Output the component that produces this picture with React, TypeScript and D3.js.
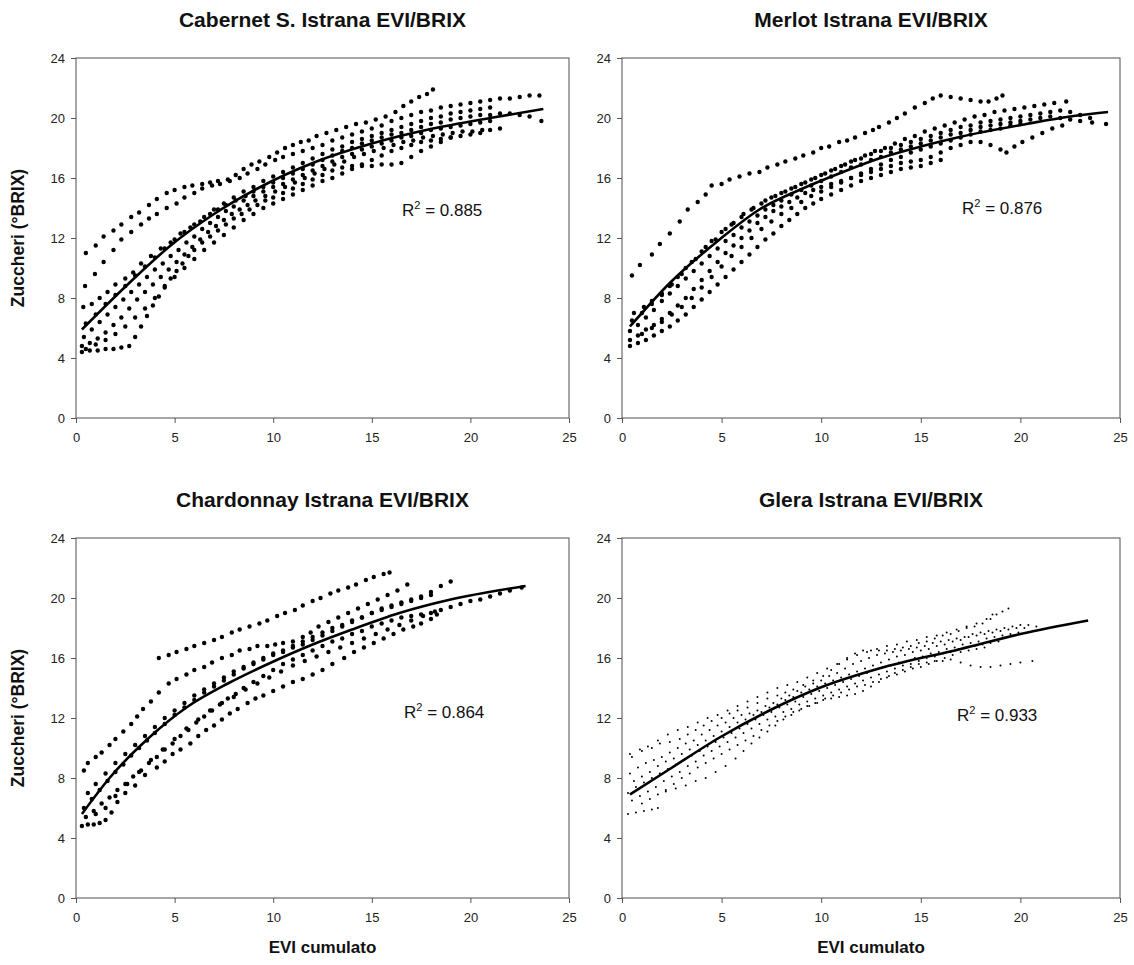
import React, { useEffect, useRef } from 'react';
import * as d3 from 'd3';

type Pt = [number, number];

const FONT = '"Liberation Sans", Arial, sans-serif';

const xTicks = [0, 5, 10, 15, 20, 25];
const yTicks = [0, 4, 8, 12, 16, 20, 24];

// Cabernet S. - one list per dotted track (EVI cumulato, °BRIX)
const cabernetTracks: Pt[][] = [
  [[0.5,11.0],[1.0,11.5],[1.4,12.1],[1.9,12.5],[2.3,12.9],[2.8,13.4],[3.2,13.7],[3.7,14.2],[4.1,14.6],[4.6,15.0],[5.0,15.2],[5.5,15.4],[5.9,15.5],[6.4,15.6],[6.8,15.7],[7.2,15.8],[7.7,15.9],[8.1,16.2],[8.5,16.6],[8.9,16.9],[9.3,17.1],[9.8,17.4],[10.2,17.7],[10.6,18.0],[11.0,18.2],[11.4,18.4],[11.8,18.5],[12.2,18.8],[12.7,19.0],[13.2,19.2],[13.7,19.4],[14.2,19.6],[14.7,19.7],[15.2,19.9],[15.7,20.1],[16.2,20.4],[16.6,20.8],[17.0,21.1],[17.4,21.4],[17.8,21.6],[18.1,21.9]],
  [[0.46,8.8],[0.96,9.6],[1.4,10.4],[1.9,11.2],[2.3,11.9],[2.8,12.4],[3.3,12.9],[3.7,13.3],[4.1,13.6],[4.6,14.0],[5.1,14.3],[5.5,14.7],[6.0,15.0],[6.4,15.3],[6.9,15.5],[7.3,15.6],[7.8,15.8],[8.3,16.0],[8.7,16.3],[9.2,16.6],[9.6,16.9],[10.1,17.2],[10.5,17.4],[11.0,17.6],[11.5,17.8],[12.0,18.0],[12.5,18.2],[13.0,18.5],[13.5,18.7],[14.0,18.9],[14.5,19.1],[15.0,19.3],[15.5,19.5],[16.0,19.8],[16.5,20.0],[17.0,20.2],[17.5,20.4],[18.0,20.5],[18.5,20.7],[19.0,20.8],[19.5,20.9],[20.0,21.0],[20.5,21.1],[21.0,21.2],[21.5,21.3],[22.0,21.3],[22.5,21.4],[23.0,21.5],[23.5,21.5]],
  [[0.37,7.4],[0.8,7.6],[1.2,8.0],[1.6,8.4],[2.0,8.9],[2.5,9.3],[2.9,9.7],[3.3,10.3],[3.8,10.8],[4.3,11.3],[4.8,11.7],[5.3,12.3],[5.8,12.7],[6.3,13.1],[6.8,13.6],[7.2,13.9],[7.6,14.2],[8.1,14.5],[8.6,14.8],[9.0,15.1],[9.5,15.4],[10.0,15.7],[10.5,16.0],[11.0,16.3],[11.5,16.6],[12.0,16.9],[12.5,17.2],[13.0,17.5],[13.5,17.8],[14.0,18.0],[14.5,18.3],[15.0,18.5],[15.5,18.7],[16.0,18.9],[16.5,19.0],[17.0,19.2],[17.5,19.4],[18.0,19.6],[18.5,19.7],[19.0,19.9],[19.5,20.0],[20.0,20.1],[20.5,20.2],[21.0,20.2],[21.5,20.3],[22.0,20.3],[22.5,20.2],[23.0,20.1],[23.6,19.8]],
  [[0.5,6.3],[1.0,6.9],[1.5,7.6],[2.0,8.2],[2.5,8.8],[3.0,9.5],[3.5,10.1],[4.0,10.7],[4.5,11.3],[5.0,11.9],[5.5,12.4],[6.0,12.9],[6.5,13.4],[7.0,13.9],[7.5,14.3],[8.0,14.7],[8.5,15.1],[9.0,15.4],[9.5,15.8],[10.0,16.1],[10.5,16.4],[11.0,16.7],[11.5,17.0],[12.0,17.3],[12.5,17.6],[13.0,17.9],[13.5,18.1],[14.0,18.4],[14.5,18.6],[15.0,18.8],[15.5,19.0],[16.0,19.2],[16.5,19.4],[17.0,19.6],[17.5,19.8],[18.0,20.0],[18.5,20.1],[19.0,20.3],[19.5,20.4],[20.0,20.5],[20.5,20.6],[21.0,20.7]],
  [[0.4,5.4],[0.8,5.9],[1.2,6.4],[1.6,6.9],[2.0,7.4],[2.4,7.9],[2.8,8.4],[3.2,8.9],[3.6,9.4],[4.0,9.9],[4.4,10.3],[4.8,10.8],[5.2,11.2],[5.6,11.7],[6.0,12.1],[6.4,12.6],[6.8,13.0],[7.2,13.4],[7.6,13.8],[8.0,14.1],[8.5,14.5],[9.0,14.8],[9.5,15.1],[10.0,15.4],[10.5,15.6],[11.0,15.9],[11.5,16.2],[12.0,16.5],[12.5,16.8],[13.0,17.1],[13.5,17.4],[14.0,17.6],[14.5,17.9],[15.0,18.1],[15.5,18.3],[16.0,18.5],[16.5,18.7],[17.0,18.8],[17.5,19.0],[18.0,19.2],[18.5,19.3],[19.0,19.4],[19.5,19.5],[20.0,19.6],[20.5,19.7],[21.0,19.8]],
  [[0.3,4.8],[0.7,5.0],[1.1,5.3],[1.5,5.7],[1.9,6.2],[2.3,6.7],[2.7,7.3],[3.1,7.9],[3.5,8.4],[3.9,8.9],[4.3,9.4],[4.7,9.9],[5.1,10.4],[5.5,10.9],[5.9,11.4],[6.3,11.9],[6.7,12.4],[7.1,12.8],[7.5,13.2],[7.9,13.6],[8.3,13.9],[8.7,14.2],[9.1,14.5],[9.6,14.8],[10.1,15.1],[10.6,15.4],[11.1,15.7],[11.6,16.0],[12.1,16.3],[12.6,16.6],[13.1,16.9],[13.6,17.1],[14.1,17.4],[14.6,17.6],[15.1,17.8],[15.6,18.0],[16.1,18.2],[16.6,18.4],[17.1,18.5],[17.6,18.7],[18.1,18.8],[18.6,18.9],[19.1,19.0],[19.6,19.1],[20.1,19.1],[20.6,19.2]],
  [[0.5,4.6],[1.0,4.9],[1.5,5.2],[2.0,5.6],[2.5,6.1],[3.0,6.7],[3.5,7.3],[4.0,8.0],[4.5,8.8],[5.0,9.4],[5.5,10.0],[6.0,10.6],[6.5,11.2],[7.0,11.7],[7.5,12.2],[8.0,12.7],[8.5,13.2],[9.0,13.6],[9.5,14.0],[10.0,14.3],[10.5,14.6],[11.0,14.9],[11.5,15.2],[12.0,15.5],[12.5,15.8],[13.0,16.0],[13.5,16.3],[14.0,16.6],[14.5,16.9],[15.0,17.2],[15.5,17.5],[16.0,17.8],[16.5,18.0],[17.0,18.2],[17.5,18.4],[18.0,18.5],[18.5,18.6],[19.0,18.7]],
  [[0.3,4.4],[0.7,4.5],[1.1,4.5],[1.5,4.6],[1.9,4.6],[2.3,4.7],[2.7,4.8],[3.0,5.4],[3.3,6.1],[3.6,6.8],[3.9,7.5],[4.2,8.1],[4.5,8.7],[4.8,9.3],[5.1,9.8],[5.4,10.3],[5.7,10.8],[6.0,11.2],[6.4,11.7],[6.8,12.1],[7.2,12.5],[7.6,12.9],[8.0,13.3],[8.4,13.6],[8.8,13.9],[9.2,14.2],[9.6,14.5],[10.0,14.7],[10.5,15.0],[11.0,15.3],[11.5,15.6],[12.0,15.9],[12.5,16.2],[13.0,16.5],[13.5,16.7],[14.0,16.8],[14.5,16.8],[15.0,16.8],[15.5,16.9],[16.0,16.9],[16.5,17.0],[17.0,17.4],[17.5,17.8],[18.0,18.1],[18.5,18.4],[19.0,18.7],[19.5,18.8],[20.0,18.9],[20.5,19.0],[21.0,19.2],[21.5,19.3]],
];
const cabernetTrend: Pt[] = [[0.3,5.9],[2.7,9.0],[4.8,11.5],[7,13.6],[9.2,15.3],[12.2,17.1],[15,18.3],[18.1,19.3],[21,20.0],[23.7,20.6]];

// Merlot
const merlotTracks: Pt[][] = [
  [[0.5,9.5],[0.9,10.2],[1.5,10.9],[1.9,11.6],[2.4,12.3],[2.9,13.1],[3.3,13.9],[3.8,14.4],[4.2,14.9],[4.5,15.5],[5.0,15.6],[5.4,15.9],[5.9,16.1],[6.4,16.3],[6.9,16.4],[7.3,16.7],[7.8,16.9],[8.2,17.1],[8.7,17.3],[9.1,17.5],[9.6,17.7],[10.0,18.0],[10.4,18.1],[10.9,18.4],[11.3,18.5],[11.7,18.7],[12.2,19.0],[12.6,19.2],[12.9,19.4],[13.4,19.7],[13.8,20.0],[14.2,20.3],[14.7,20.7],[15.2,21.0],[15.6,21.3],[16.0,21.5],[16.5,21.4],[17.0,21.3],[17.5,21.2],[18.0,21.1],[18.4,21.1],[18.8,21.3],[19.1,21.5]],
  [[0.6,7.0],[1.1,7.4],[1.5,7.8],[2.0,8.3],[2.4,8.8],[2.8,9.4],[3.2,10.0],[3.7,10.6],[4.2,11.4],[4.7,11.9],[5.2,12.6],[5.6,13.0],[6.1,13.6],[6.6,14.0],[7.2,14.5],[7.7,14.8],[8.2,15.1],[8.7,15.4],[9.2,15.7],[9.7,16.0],[10.2,16.3],[10.7,16.6],[11.2,16.9],[11.7,17.2],[12.2,17.5],[12.7,17.8],[13.2,18.0],[13.7,18.3],[14.2,18.6],[14.7,18.8],[15.2,19.1],[15.7,19.3],[16.2,19.5],[16.7,19.7],[17.2,19.9],[17.7,20.1],[18.2,20.2],[18.7,20.4],[19.2,20.5],[19.7,20.6],[20.2,20.7],[20.7,20.8],[21.2,20.9],[21.7,21.0],[22.3,21.1]],
  [[0.5,6.5],[1.0,7.0],[1.5,7.6],[2.0,8.2],[2.5,8.9],[3.0,9.6],[3.5,10.4],[4.0,11.1],[4.5,11.8],[5.0,12.4],[5.5,12.9],[6.0,13.4],[6.5,13.9],[7.0,14.3],[7.5,14.7],[8.0,15.0],[8.5,15.3],[9.0,15.6],[9.5,15.9],[10.0,16.2],[10.5,16.5],[11.0,16.8],[11.5,17.1],[12.0,17.3],[12.5,17.6],[13.0,17.8],[13.5,18.0],[14.0,18.2],[14.5,18.4],[15.0,18.6],[15.5,18.8],[16.0,19.0],[16.5,19.2],[17.0,19.4],[17.5,19.5],[18.0,19.7],[18.5,19.8],[19.0,19.9],[19.5,20.0],[20.0,20.1],[20.5,20.2],[21.0,20.3],[21.5,20.4],[22.0,20.5],[22.5,20.4],[23.0,20.2],[23.5,20.0]],
  [[0.4,5.8],[0.8,6.2],[1.2,6.7],[1.6,7.2],[2.0,7.8],[2.4,8.3],[2.8,8.8],[3.2,9.3],[3.6,9.8],[4.0,10.3],[4.4,10.8],[4.8,11.3],[5.2,11.8],[5.6,12.2],[6.0,12.7],[6.4,13.1],[6.8,13.5],[7.2,13.9],[7.6,14.2],[8.0,14.5],[8.5,14.9],[9.0,15.2],[9.5,15.5],[10.0,15.8],[10.5,16.1],[11.0,16.4],[11.5,16.7],[12.0,16.9],[12.5,17.2],[13.0,17.4],[13.5,17.7],[14.0,17.9],[14.5,18.1],[15.0,18.3],[15.5,18.5],[16.0,18.7],[16.5,18.9],[17.0,19.0],[17.5,19.2],[18.0,19.4],[18.5,19.5],[19.0,19.6],[19.5,19.7],[20.0,19.8],[20.5,19.9],[21.0,20.0],[21.5,20.1],[22.0,20.0],[22.5,19.9],[23.0,19.8],[23.6,19.7],[24.3,19.6]],
  [[1.0,5.6],[1.5,6.0],[2.0,6.4],[2.5,6.9],[3.0,7.4],[3.5,8.0],[4.0,8.7],[4.5,9.4],[5.0,10.1],[5.5,10.8],[6.0,11.4],[6.5,12.0],[7.0,12.6],[7.5,13.1],[8.0,13.6],[8.5,14.0],[9.0,14.4],[9.5,14.8],[10.0,15.1],[10.5,15.4],[11.0,15.7],[11.5,16.0],[12.0,16.3],[12.5,16.6],[13.0,16.9],[13.5,17.2],[14.0,17.4],[14.5,17.7],[15.0,17.9],[15.5,18.1],[16.0,18.3],[16.5,18.5],[17.0,18.7],[17.5,18.9],[18.0,19.1],[18.5,19.2],[19.0,19.3],[19.5,19.5],[20.0,19.6]],
  [[0.4,5.2],[0.8,5.5],[1.2,5.9],[1.6,6.2],[2.0,6.6],[2.4,7.0],[2.8,7.5],[3.2,8.0],[3.6,8.6],[4.0,9.2],[4.4,9.8],[4.8,10.4],[5.2,11.0],[5.6,11.5],[6.0,12.0],[6.4,12.5],[6.8,13.0],[7.2,13.4],[7.6,13.8],[8.0,14.1],[8.4,14.4],[8.8,14.7],[9.2,15.0],[9.6,15.2],[10.0,15.4],[10.5,15.6],[11.0,15.8],[11.5,16.0],[12.0,16.2],[12.5,16.4],[13.0,16.6],[13.5,16.8],[14.0,17.0],[14.5,17.1],[15.0,17.2],[15.5,17.4],[16.0,17.7],[16.5,18.0],[17.0,18.2],[17.5,18.4],[18.0,18.4],[18.5,18.2],[19.0,17.9],[19.3,17.7],[19.7,18.1],[20.1,18.4],[20.6,18.7],[21.1,19.0],[21.6,19.3],[22.1,19.5]],
  [[0.4,4.8],[0.8,5.0],[1.2,5.2],[1.6,5.5],[2.0,5.8],[2.4,6.1],[2.8,6.5],[3.2,6.9],[3.6,7.4],[4.0,7.9],[4.4,8.4],[4.8,8.9],[5.2,9.4],[5.6,9.9],[6.0,10.4],[6.4,10.9],[6.8,11.4],[7.2,11.9],[7.6,12.3],[8.0,12.8],[8.4,13.2],[8.8,13.6],[9.2,14.0],[9.6,14.3],[10.0,14.6],[10.5,14.9],[11.0,15.2],[11.5,15.5],[12.0,15.8],[12.5,16.0],[13.0,16.2],[13.5,16.4],[14.0,16.6],[14.5,16.7],[15.0,16.8],[15.5,17.0],[16.0,17.2]],
];
const merlotTrend: Pt[] = [[0.4,6.1],[2.4,9.0],[4.9,11.9],[6.9,13.9],[8.9,15.2],[10.9,16.3],[12.9,17.3],[15,18.1],[17,18.75],[20.3,19.6],[22.5,20.1],[24.4,20.4]];

// Chardonnay
const chardonnayTracks: Pt[][] = [
  [[4.2,16.0],[4.7,16.2],[5.1,16.4],[5.6,16.6],[6.0,16.8],[6.5,17.0],[7.0,17.2],[7.4,17.4],[7.9,17.7],[8.3,17.9],[8.8,18.1],[9.3,18.3],[9.7,18.5],[10.2,18.8],[10.6,19.0],[11.1,19.2],[11.5,19.5],[12.0,19.8],[12.4,20.0],[12.9,20.3],[13.3,20.5],[13.8,20.7],[14.2,20.9],[14.7,21.2],[15.1,21.4],[15.6,21.6],[15.9,21.7]],
  [[0.4,8.5],[0.6,9.0],[1.0,9.4],[1.3,9.7],[1.7,10.2],[2.0,10.6],[2.4,11.1],[2.8,11.6],[3.1,12.1],[3.4,12.6],[3.8,13.1],[4.2,13.7],[4.7,14.3],[5.1,14.6],[5.6,14.9],[6.0,15.2],[6.5,15.4],[6.9,15.7],[7.4,16.0],[7.9,16.2],[8.3,16.5],[8.8,16.6],[9.2,16.8],[9.7,16.8],[10.1,16.9],[10.5,17.0],[11.0,17.1],[11.5,17.4],[11.9,17.7],[12.3,18.1],[12.8,18.4],[13.3,18.7],[13.8,19.0],[14.3,19.3],[14.8,19.6],[15.3,19.9],[15.8,20.2],[16.3,20.5],[16.8,20.9]],
  [[0.6,7.0],[1.0,7.6],[1.5,8.3],[2.0,9.0],[2.5,9.6],[3.0,10.2],[3.5,10.8],[4.0,11.4],[4.5,12.0],[5.0,12.5],[5.5,13.0],[6.0,13.5],[6.5,13.9],[7.0,14.3],[7.5,14.7],[8.0,15.1],[8.5,15.4],[9.0,15.7],[9.5,16.0],[10.0,16.3],[10.5,16.5],[11.0,16.8],[11.5,17.1],[12.0,17.4],[12.5,17.7],[13.0,18.0],[13.5,18.2],[14.0,18.5],[14.5,18.7],[15.0,19.0],[15.5,19.2],[16.0,19.4],[16.5,19.6],[17.0,19.8],[17.5,20.0],[18.0,20.2]],
  [[0.4,6.0],[0.8,6.6],[1.2,7.2],[1.6,7.8],[2.0,8.4],[2.4,8.9],[2.8,9.5],[3.2,10.0],[3.6,10.5],[4.0,11.0],[4.5,11.6],[5.0,12.2],[5.5,12.7],[6.0,13.2],[6.5,13.7],[7.0,14.1],[7.5,14.5],[8.0,14.9],[8.5,15.3],[9.0,15.6],[9.5,15.9],[10.0,16.2],[10.5,16.4],[11.0,16.7],[11.5,16.9],[12.0,17.2],[12.5,17.5],[13.0,17.8],[13.5,18.1],[14.0,18.4],[14.5,18.7],[15.0,19.0],[15.5,19.3],[16.0,19.5],[16.5,19.7],[17.0,19.9],[17.5,20.1],[18.0,20.4],[18.5,20.8],[19.0,21.1]],
  [[0.5,5.4],[0.9,5.8],[1.3,6.3],[1.7,6.7],[2.1,7.2],[2.5,7.6],[2.9,8.1],[3.3,8.5],[3.7,9.0],[4.1,9.4],[4.5,9.9],[4.9,10.3],[5.3,10.8],[5.7,11.2],[6.1,11.7],[6.5,12.1],[6.9,12.5],[7.3,12.9],[7.7,13.3],[8.1,13.6],[8.5,14.0],[9.0,14.4],[9.5,14.8],[10.0,15.2],[10.5,15.6],[11.0,15.9],[11.5,16.2],[12.0,16.5],[12.5,16.8],[13.0,17.1],[13.5,17.3],[14.0,17.6],[14.5,17.8],[15.0,18.1],[15.5,18.3],[16.0,18.5],[16.5,18.7],[17.0,18.8],[17.5,18.9],[18.0,19.0],[18.5,19.2],[19.0,19.4],[19.5,19.6],[20.0,19.8],[20.5,19.9],[21.0,20.1],[21.5,20.3],[22.0,20.5],[22.6,20.7]],
  [[1.0,5.6],[1.5,6.0],[2.0,6.8],[2.6,7.6],[3.2,8.4],[3.8,9.2],[4.4,9.9],[5.0,10.6],[5.6,11.3],[6.2,11.9],[6.8,12.5],[7.4,13.0],[8.0,13.4],[8.6,13.9],[9.2,14.3],[9.8,14.7],[10.4,15.1],[11.0,15.5],[11.6,15.8],[12.2,16.1],[12.8,16.4],[13.4,16.7],[14.0,17.0],[14.6,17.3],[15.2,17.6],[15.8,17.9],[16.4,18.2],[17.0,18.5],[17.6,18.8],[18.2,19.1]],
  [[0.3,4.8],[0.6,4.9],[0.9,4.9],[1.2,5.0],[1.5,5.2],[1.8,5.7],[2.1,6.4],[2.5,7.0],[3.0,7.5],[3.5,8.2],[4.1,8.7],[4.5,9.1],[4.9,9.6],[5.3,9.9],[5.8,10.3],[6.2,10.8],[6.6,11.2],[7.0,11.5],[7.4,11.9],[7.8,12.3],[8.2,12.6],[8.7,13.0],[9.1,13.3],[9.5,13.5],[10.0,13.8],[10.5,14.1],[11.0,14.4],[11.5,14.6],[12.0,14.9],[12.5,15.2],[13.0,15.6],[13.6,16.0],[14.1,16.4],[14.6,16.7],[15.1,17.0],[15.6,17.3],[16.1,17.6],[16.6,17.9],[17.1,18.1],[17.5,18.3],[18.0,18.6],[18.3,18.9]],
];
const chardonnayTrend: Pt[] = [[0.3,5.6],[1.7,8.0],[3.8,10.8],[5.6,12.7],[7.7,14.3],[9.9,15.7],[12,16.9],[14,17.9],[16.4,19.0],[19,19.9],[22.8,20.8]];

// Glera
const gleraTracks: Pt[][] = [
  [[0.4,9.6],[0.9,9.9],[1.3,10.1],[1.8,10.5],[2.3,10.9],[2.8,11.2],[3.3,11.4],[3.8,11.7],[4.3,12.0],[4.8,12.2],[5.3,12.5],[5.8,12.8],[6.3,13.1],[6.8,13.4],[7.3,13.7],[7.8,14.0],[8.3,14.2],[8.8,14.4],[9.3,14.7],[9.8,15.0],[10.3,15.3],[10.8,15.6],[11.3,15.9],[11.8,16.2],[12.3,16.4],[12.8,16.6],[13.3,16.8],[13.8,16.9],[14.3,17.1],[14.8,17.2],[15.3,17.4],[15.8,17.5],[16.3,17.7],[16.8,17.9],[17.3,18.1],[17.8,18.3],[18.3,18.6],[18.6,18.9]],
  [[0.5,9.4],[1.0,9.8],[1.5,10.0],[1.9,10.3],[2.4,10.4],[2.9,10.6],[3.3,10.9],[3.7,11.2],[4.1,11.5],[4.5,11.8],[5.0,12.0],[5.4,12.3],[5.8,12.5],[6.3,12.7],[6.8,13.0],[7.3,13.3],[7.8,13.5],[8.2,13.7],[8.6,13.9],[9.1,14.2],[9.6,14.5],[10.1,14.8],[10.5,15.2],[10.9,15.6],[11.3,16.0],[11.7,16.3],[12.1,16.5],[12.5,16.5],[12.9,16.5],[13.3,16.5],[13.7,16.6],[14.1,16.7],[14.5,16.8],[14.9,17.0],[15.3,17.1],[15.7,17.3],[16.1,17.5],[16.5,17.6],[16.9,17.8],[17.3,18.0],[17.7,18.1],[18.1,18.3],[18.5,18.6],[18.8,18.9],[19.1,19.1],[19.4,19.3]],
  [[0.4,8.3],[0.8,8.7],[1.2,9.0],[1.6,9.2],[2.0,9.4],[2.4,9.7],[2.8,10.0],[3.2,10.3],[3.6,10.5],[4.0,10.9],[4.4,11.2],[4.8,11.5],[5.2,11.7],[5.6,12.0],[6.0,12.2],[6.4,12.3],[6.8,12.5],[7.2,12.8],[7.6,13.0],[8.0,13.3],[8.4,13.5],[8.8,13.8],[9.2,14.1],[9.6,14.3],[10.0,14.5],[10.4,14.8],[10.8,15.0],[11.2,15.3],[11.6,15.6],[12.0,15.8],[12.4,16.0],[12.8,16.2],[13.2,16.3],[13.6,16.4],[14.0,16.5],[14.4,16.6],[14.8,16.7],[15.2,16.8],[15.6,17.0],[16.0,17.1],[16.4,17.2],[16.8,17.3],[17.2,17.4],[17.6,17.6],[18.0,17.7],[18.4,17.8],[18.8,17.9],[19.2,18.0],[19.6,18.1],[20.0,18.2],[20.4,18.2],[20.8,18.1]],
  [[0.6,7.8],[1.0,8.1],[1.4,8.4],[1.8,8.8],[2.2,9.1],[2.6,9.3],[3.0,9.6],[3.4,9.9],[3.8,10.2],[4.2,10.5],[4.6,10.8],[5.0,11.1],[5.4,11.4],[5.8,11.7],[6.2,11.9],[6.6,12.2],[7.0,12.4],[7.4,12.7],[7.8,12.9],[8.2,13.2],[8.6,13.4],[9.0,13.7],[9.4,13.9],[9.8,14.1],[10.2,14.3],[10.6,14.5],[11.0,14.7],[11.4,14.9],[11.8,15.1],[12.2,15.3],[12.6,15.5],[13.0,15.7],[13.4,15.9],[13.8,16.1],[14.2,16.2],[14.6,16.4],[15.0,16.5],[15.4,16.6],[15.8,16.8],[16.2,16.9],[16.6,17.1],[17.0,17.2],[17.4,17.4],[17.8,17.5],[18.2,17.6],[18.6,17.7],[19.0,17.8],[19.4,17.9],[19.8,18.0],[20.2,18.0]],
  [[0.3,7.0],[0.7,7.4],[1.1,7.7],[1.5,8.0],[1.9,8.3],[2.3,8.6],[2.7,8.9],[3.1,9.2],[3.5,9.5],[3.9,9.8],[4.3,10.1],[4.7,10.4],[5.1,10.7],[5.5,11.0],[5.9,11.3],[6.3,11.6],[6.7,11.9],[7.1,12.2],[7.5,12.4],[7.9,12.7],[8.3,12.9],[8.7,13.1],[9.1,13.4],[9.5,13.6],[9.9,13.8],[10.3,14.0],[10.7,14.2],[11.1,14.4],[11.5,14.6],[11.9,14.8],[12.3,15.0],[12.7,15.2],[13.1,15.4],[13.5,15.5],[13.9,15.7],[14.3,15.8],[14.7,16.0],[15.1,16.1],[15.5,16.3],[15.9,16.4],[16.3,16.6],[16.7,16.7],[17.1,16.9],[17.5,17.0],[17.9,17.1],[18.3,17.3],[18.7,17.4],[19.1,17.5],[19.5,17.6],[19.9,17.7]],
  [[0.5,6.5],[0.9,6.8],[1.3,7.1],[1.7,7.4],[2.1,7.8],[2.5,8.1],[2.9,8.4],[3.3,8.8],[3.7,9.1],[4.1,9.5],[4.5,9.8],[4.9,10.1],[5.3,10.4],[5.7,10.7],[6.1,11.0],[6.5,11.3],[6.9,11.6],[7.3,11.9],[7.7,12.1],[8.1,12.4],[8.5,12.6],[8.9,12.9],[9.3,13.1],[9.7,13.3],[10.1,13.5],[10.5,13.7],[10.9,13.9],[11.3,14.1],[11.7,14.3],[12.1,14.5],[12.5,14.7],[12.9,14.9],[13.3,15.1],[13.7,15.3],[14.1,15.5],[14.5,15.6],[14.9,15.8],[15.3,16.0],[15.7,16.1],[16.1,16.3],[16.5,16.4],[16.9,16.6],[17.3,16.7],[17.7,16.8],[18.1,16.9],[18.5,17.0],[18.9,17.1]],
  [[1.0,6.3],[1.4,6.6],[1.8,6.9],[2.2,7.2],[2.6,7.6],[3.0,8.0],[3.4,8.3],[3.8,8.7],[4.2,9.0],[4.6,9.3],[5.0,9.6],[5.4,9.9],[5.8,10.2],[6.2,10.5],[6.6,10.8],[7.0,11.2],[7.4,11.5],[7.8,11.8],[8.2,12.1],[8.6,12.4],[9.0,12.6],[9.4,12.8],[9.8,13.0],[10.2,13.3],[10.6,13.5],[11.0,13.7],[11.4,13.9],[11.8,14.1],[12.2,14.2],[12.6,14.4],[13.0,14.6],[13.4,14.8],[13.8,14.9],[14.2,15.1],[14.6,15.3],[15.0,15.4],[15.4,15.6],[15.8,15.8],[16.2,16.0],[16.6,16.2],[17.0,16.4],[17.4,16.5],[17.8,16.6],[18.2,16.7]],
  [[0.3,5.6],[0.7,5.7],[1.1,5.8],[1.5,5.9],[1.8,6.0],[2.2,7.1],[2.7,7.3],[3.2,7.5],[3.7,7.8],[4.2,8.0],[4.7,8.4],[5.2,8.8],[5.7,9.3],[6.1,9.8],[6.5,10.3],[6.9,10.7],[7.3,11.1],[7.7,11.5],[8.1,11.9],[8.5,12.2],[8.9,12.5],[9.3,12.8],[9.7,13.0],[10.1,13.2],[10.5,13.3],[10.9,13.4],[11.3,13.5],[11.7,13.6],[12.1,13.8],[12.5,14.1],[12.9,14.4],[13.3,14.7],[13.7,15.0],[14.1,15.2],[14.5,15.4],[14.9,15.6],[15.3,15.7],[15.7,15.8],[16.1,15.8],[16.5,15.9],[17.0,15.7],[17.5,15.5],[18.0,15.4],[18.5,15.4],[19.0,15.5],[19.5,15.6],[20.0,15.7],[20.6,15.8]],
];
const gleraTrend: Pt[] = [[0.4,6.9],[2.4,8.6],[4.9,10.7],[7.4,12.5],[9.9,14.0],[12.9,15.3],[17,16.6],[20,17.6],[23.4,18.5]];

const panels = [
  { title: 'Cabernet S. Istrana EVI/BRIX', tracks: cabernetTracks, trend: cabernetTrend, r2: '0.885',
    left: 76, right: 569, top: 58, bottom: 418, r2dx: 326, r2dy: 158, dotR: 2.2, yTitle: true, xTitle: false },
  { title: 'Merlot Istrana EVI/BRIX', tracks: merlotTracks, trend: merlotTrend, r2: '0.876',
    left: 622, right: 1120, top: 58, bottom: 418, r2dx: 340, r2dy: 156, dotR: 2.2, yTitle: false, xTitle: false },
  { title: 'Chardonnay Istrana EVI/BRIX', tracks: chardonnayTracks, trend: chardonnayTrend, r2: '0.864',
    left: 76, right: 569, top: 538, bottom: 898, r2dx: 328, r2dy: 180, dotR: 2.2, yTitle: true, xTitle: true },
  { title: 'Glera Istrana EVI/BRIX', tracks: gleraTracks, trend: gleraTrend, r2: '0.933',
    left: 622, right: 1120, top: 538, bottom: 898, r2dx: 335, r2dy: 183, dotR: 1.0, yTitle: false, xTitle: true },
];

export default function App() {
  const svgRef = useRef<SVGSVGElement>(null);

  useEffect(() => {
    const svg = d3.select(svgRef.current);
    svg.selectAll('*').remove();

    panels.forEach((p) => {
      const x = d3.scaleLinear().domain([0, 25]).range([p.left, p.right]);
      const y = d3.scaleLinear().domain([0, 24]).range([p.bottom, p.top]);
      const g = svg.append('g');

      // frame
      g.append('rect')
        .attr('x', p.left).attr('y', p.top)
        .attr('width', p.right - p.left).attr('height', p.bottom - p.top)
        .attr('fill', 'none').attr('stroke', '#6b6b6b').attr('stroke-width', 1.2);

      const yAxis = d3.axisLeft(y).tickValues(yTicks).tickSize(5).tickSizeOuter(0).tickPadding(6);
      const xAxis = d3.axisBottom(x).tickValues(xTicks).tickSize(5).tickSizeOuter(0).tickPadding(10);

      g.append('g').attr('transform', `translate(${p.left},0)`).call(yAxis)
        .call((a) => a.select('.domain').remove())
        .attr('font-family', FONT).attr('font-size', 13)
        .call((a) => a.selectAll('line').attr('stroke', '#555'))
        .call((a) => a.selectAll('text').attr('fill', '#222'));
      g.append('g').attr('transform', `translate(0,${p.bottom})`).call(xAxis)
        .call((a) => a.select('.domain').remove())
        .attr('font-family', FONT).attr('font-size', 13)
        .call((a) => a.selectAll('line').attr('stroke', '#555'))
        .call((a) => a.selectAll('text').attr('fill', '#222'));

      // dots
      const pts = p.tracks.flat();
      g.append('g').selectAll('circle').data(pts).enter().append('circle')
        .attr('cx', (d) => x(d[0])).attr('cy', (d) => y(d[1]))
        .attr('r', p.dotR).attr('fill', '#000');

      // trend
      const line = d3.line<Pt>().x((d) => x(d[0])).y((d) => y(d[1])).curve(d3.curveMonotoneX);
      g.append('path').attr('d', line(p.trend)).attr('fill', 'none')
        .attr('stroke', '#000').attr('stroke-width', 2.6);

      // title
      g.append('text').attr('x', (p.left + p.right) / 2).attr('y', p.top - 31)
        .attr('text-anchor', 'middle').attr('font-family', FONT).attr('font-weight', 'bold')
        .attr('font-size', 21).attr('fill', '#111').text(p.title);

      // R2 label
      const r2 = g.append('text').attr('x', p.left + p.r2dx).attr('y', p.top + p.r2dy)
        .attr('font-family', FONT).attr('font-size', 17).attr('fill', '#111');
      r2.append('tspan').text('R');
      r2.append('tspan').attr('dy', -7).attr('font-size', 11).text('2');
      r2.append('tspan').attr('dy', 7).text(` = ${p.r2}`);

      if (p.yTitle) {
        const cy = (p.top + p.bottom) / 2;
        g.append('text').attr('transform', `translate(24,${cy}) rotate(-90)`)
          .attr('text-anchor', 'middle').attr('font-family', FONT).attr('font-weight', 'bold')
          .attr('font-size', 17.5).attr('fill', '#111').text('Zuccheri (°BRIX)');
      }
      if (p.xTitle) {
        g.append('text').attr('x', (p.left + p.right) / 2).attr('y', 953)
          .attr('text-anchor', 'middle').attr('font-family', FONT).attr('font-weight', 'bold')
          .attr('font-size', 17).attr('fill', '#111').text('EVI cumulato');
      }
    });
  }, []);

  return (
    <svg ref={svgRef} width={1134} height={965}
      style={{ position: 'absolute', left: 0, top: 0, background: '#fff' }} />
  );
}
